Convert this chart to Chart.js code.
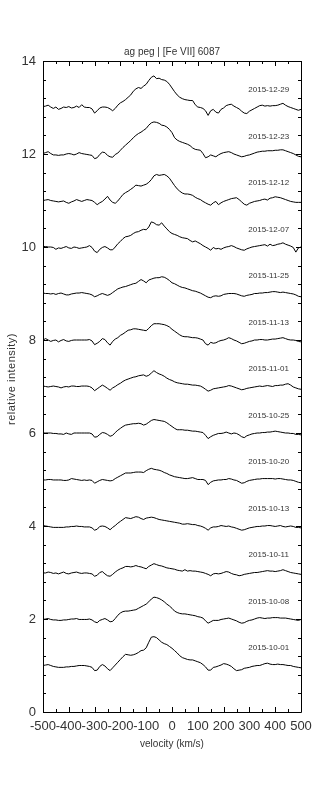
<!DOCTYPE html>
<html><head><meta charset="utf-8">
<script src="https://cdn.jsdelivr.net/npm/chart.js@4.4.0/dist/chart.umd.min.js"></script>
<style>html,body{margin:0;padding:0;background:#fff}canvas{display:block}</style>
</head><body>
<canvas id="c" width="333" height="800"></canvas>
<script>
const velocity = [-500,-490,-480,-470,-460,-450,-440,-430,-420,-410,-400,-390,-380,-370,-360,-350,-340,-330,-320,-310,-300,-290,-280,-270,-260,-250,-240,-230,-220,-210,-200,-190,-180,-170,-160,-150,-140,-130,-120,-110,-100,-90,-80,-70,-60,-50,-40,-30,-20,-10,0,10,20,30,40,50,60,70,80,90,100,110,120,130,140,150,160,170,180,190,200,210,220,230,240,250,260,270,280,290,300,310,320,330,340,350,360,370,380,390,400,410,420,430,440,450,460,470,480,490,500];

const dates = ['2015-10-01','2015-10-08','2015-10-11','2015-10-13','2015-10-20','2015-10-25','2015-11-01','2015-11-13','2015-11-25','2015-12-07','2015-12-12','2015-12-23','2015-12-29'];
const offsets = [0,1,2,3,4,5,6,7,8,9,10,11,12];

const s20151001 = [1.00,1.01,1.02,1.00,0.98,0.97,0.96,0.96,0.96,0.97,0.97,0.98,0.98,0.99,1.00,1.00,1.00,0.99,0.98,0.96,0.89,0.90,0.98,1.02,0.99,0.93,0.89,0.95,1.01,1.07,1.13,1.19,1.24,1.23,1.22,1.23,1.25,1.28,1.32,1.33,1.38,1.50,1.61,1.62,1.60,1.55,1.50,1.47,1.45,1.41,1.37,1.32,1.27,1.21,1.17,1.15,1.13,1.12,1.12,1.10,1.08,1.06,1.02,0.97,0.90,0.90,0.96,0.97,0.99,1.01,1.04,1.03,1.01,0.98,0.93,0.89,0.90,0.91,0.94,0.95,0.96,0.98,0.99,1.00,1.00,1.02,1.04,1.05,1.03,1.02,1.02,1.03,1.02,1.02,1.01,1.00,1.00,0.98,0.97,0.96,0.95];
const s20151008 = [0.99,1.00,1.01,0.99,0.98,0.98,0.97,0.97,0.98,0.98,0.99,1.00,1.00,1.01,0.99,0.99,0.99,0.99,1.00,0.98,0.94,0.92,0.97,0.99,1.01,0.98,0.94,0.95,1.01,1.08,1.13,1.16,1.17,1.17,1.18,1.19,1.20,1.23,1.26,1.29,1.32,1.37,1.43,1.47,1.46,1.44,1.41,1.37,1.32,1.28,1.23,1.17,1.14,1.12,1.11,1.11,1.10,1.09,1.08,1.07,1.05,1.04,1.02,0.96,0.91,0.94,0.97,0.97,0.97,0.99,1.00,1.01,1.02,1.00,0.98,0.96,0.93,0.91,0.92,0.95,0.97,0.98,1.00,1.02,1.03,1.02,1.01,1.02,1.02,1.03,1.03,1.03,1.02,1.02,1.02,1.01,1.00,0.99,0.98,0.97,0.99];
const s20151011 = [0.99,0.99,1.01,1.00,0.98,0.99,0.97,0.99,1.01,0.98,0.97,0.99,1.00,1.01,0.99,0.98,0.99,0.99,0.98,0.97,0.92,0.94,1.00,1.02,0.97,0.93,0.92,0.96,1.01,1.05,1.08,1.10,1.13,1.13,1.12,1.13,1.15,1.13,1.12,1.10,1.08,1.13,1.16,1.19,1.17,1.15,1.14,1.12,1.10,1.09,1.08,1.07,1.05,1.04,1.03,1.06,1.03,1.04,1.03,1.03,1.02,1.01,1.00,0.98,0.96,0.93,0.97,0.98,0.97,0.98,1.00,1.02,1.01,0.98,0.96,0.95,0.93,0.94,0.96,0.97,0.98,0.99,1.00,1.00,1.01,1.02,1.03,1.04,1.03,1.03,1.02,1.03,1.04,1.06,1.04,1.02,1.00,0.99,0.98,0.97,0.96];
const s20151013 = [1.01,1.00,0.99,0.98,0.97,0.97,0.97,0.97,0.97,0.98,0.98,0.99,0.99,1.00,0.99,0.99,0.98,0.98,0.98,0.96,0.91,0.93,0.99,1.00,0.99,0.96,0.92,0.97,1.01,1.06,1.10,1.14,1.18,1.17,1.16,1.18,1.20,1.19,1.16,1.14,1.17,1.18,1.19,1.18,1.16,1.14,1.13,1.12,1.11,1.10,1.09,1.08,1.07,1.06,1.04,1.04,1.05,1.04,1.03,1.03,1.01,1.00,0.98,0.95,0.91,0.96,0.98,0.98,0.99,1.01,1.00,0.99,1.00,0.98,0.97,0.95,0.93,0.91,0.92,0.94,0.96,0.97,0.98,0.99,0.99,1.00,1.00,1.01,1.01,1.00,0.99,1.00,1.01,0.99,0.98,0.99,1.00,0.99,0.97,0.97,0.96];
const s20151020 = [0.99,0.99,1.00,1.00,0.99,0.99,0.99,0.99,0.98,0.98,0.99,1.02,1.01,1.00,0.99,0.98,0.99,0.98,0.99,0.98,0.92,0.95,0.98,1.00,0.99,0.98,0.97,0.98,1.02,1.05,1.08,1.11,1.14,1.14,1.14,1.15,1.16,1.16,1.16,1.15,1.19,1.22,1.24,1.22,1.21,1.20,1.18,1.15,1.13,1.10,1.08,1.06,1.05,1.04,1.03,1.02,1.02,1.03,1.04,1.02,1.00,1.00,1.00,0.98,0.89,0.94,0.97,0.98,0.99,0.99,1.00,1.00,1.02,1.01,0.99,0.98,0.95,0.92,0.93,0.96,0.98,0.99,1.00,1.01,1.01,1.02,1.02,1.02,1.02,1.02,1.01,1.02,1.02,1.01,1.00,0.99,0.99,0.98,0.96,0.94,0.93];
const s20151025 = [1.00,1.00,1.00,1.00,0.99,0.99,0.98,0.98,0.97,1.00,0.98,0.97,1.00,1.00,1.00,1.00,1.00,1.00,1.00,0.98,0.91,0.92,0.97,1.01,1.00,0.97,0.93,0.95,1.01,1.06,1.10,1.14,1.17,1.18,1.19,1.20,1.20,1.21,1.20,1.17,1.19,1.23,1.27,1.29,1.28,1.27,1.26,1.25,1.22,1.18,1.14,1.10,1.07,1.07,1.07,1.06,1.06,1.05,1.04,1.04,1.03,1.02,1.01,0.95,0.88,0.92,0.95,0.97,0.99,0.99,1.00,1.02,1.00,0.98,1.00,0.99,0.96,0.92,0.90,0.94,0.96,0.98,0.99,1.00,1.00,1.01,1.01,1.02,1.02,1.03,1.04,1.03,1.02,1.01,1.00,1.00,0.99,0.99,0.97,0.97,0.96];
const s20151101 = [1.01,1.00,0.99,1.00,1.01,1.00,0.99,0.97,0.99,1.00,0.99,1.01,1.01,1.00,1.00,1.01,1.01,1.01,1.00,0.97,0.91,0.95,0.99,1.03,1.00,0.96,0.92,0.97,1.00,1.04,1.07,1.11,1.14,1.16,1.18,1.20,1.21,1.23,1.24,1.25,1.22,1.24,1.29,1.34,1.30,1.27,1.25,1.22,1.18,1.15,1.13,1.10,1.08,1.07,1.06,1.05,1.05,1.04,1.03,1.03,1.02,1.01,0.98,0.94,0.90,0.92,0.95,0.96,0.97,0.98,0.99,1.00,1.02,1.01,0.99,0.97,0.95,0.93,0.94,0.96,0.97,0.98,0.99,1.00,1.01,1.00,1.01,1.02,1.01,1.00,1.02,1.02,1.03,1.03,1.05,1.06,1.03,0.99,0.97,0.95,0.94];
const s20151113 = [1.00,1.03,1.00,0.97,0.99,1.00,0.96,0.99,1.01,0.98,0.97,0.99,1.00,1.00,1.00,1.00,1.00,1.00,1.01,0.98,0.90,0.93,0.97,1.03,1.01,0.94,0.89,0.97,1.02,1.05,1.10,1.13,1.17,1.21,1.22,1.24,1.24,1.23,1.22,1.21,1.20,1.25,1.31,1.35,1.35,1.35,1.34,1.33,1.31,1.28,1.23,1.19,1.15,1.11,1.08,1.07,1.07,1.06,1.05,1.05,1.04,1.02,1.00,0.92,0.89,0.95,0.93,0.94,0.97,0.99,1.00,1.02,1.05,1.03,1.00,0.98,0.95,0.92,0.93,0.95,0.97,0.98,1.00,1.00,1.01,1.01,1.00,1.00,1.01,1.02,1.02,1.03,1.04,1.05,1.03,1.01,1.00,1.00,0.99,0.97,0.96];
const s20151125 = [1.01,1.00,1.00,0.99,1.00,0.98,1.00,1.01,0.99,0.97,0.97,0.99,1.00,1.01,1.01,1.02,1.01,1.00,0.99,0.97,0.93,0.95,0.98,1.00,0.98,0.96,0.98,1.02,1.06,1.10,1.12,1.14,1.15,1.17,1.19,1.21,1.22,1.26,1.30,1.27,1.23,1.29,1.31,1.33,1.34,1.34,1.36,1.35,1.32,1.28,1.23,1.21,1.18,1.15,1.13,1.12,1.10,1.08,1.06,1.05,1.03,1.01,0.98,0.95,0.92,0.91,0.94,0.95,0.94,0.95,0.98,0.99,1.00,1.00,1.00,0.99,0.97,0.95,0.94,0.96,0.97,0.98,1.00,1.00,1.01,1.01,1.02,1.02,1.03,1.04,1.04,1.03,1.02,1.03,1.02,1.01,1.00,0.99,0.97,0.94,0.93];
const s20151207 = [1.01,1.01,1.00,1.00,0.99,0.95,0.98,0.97,0.99,1.01,0.98,0.97,1.00,0.99,0.97,0.98,0.99,1.00,1.03,0.99,0.91,0.88,0.95,0.99,1.01,0.98,0.94,0.94,1.00,1.07,1.12,1.18,1.22,1.23,1.25,1.29,1.32,1.33,1.36,1.38,1.37,1.43,1.54,1.52,1.48,1.47,1.52,1.45,1.39,1.33,1.29,1.27,1.25,1.22,1.20,1.19,1.18,1.14,1.11,1.13,1.10,1.07,1.03,1.00,0.97,0.93,0.99,0.96,0.97,0.95,0.98,1.00,1.01,1.03,1.01,0.98,0.96,0.94,0.93,0.96,0.98,1.00,1.01,1.02,1.03,1.04,1.05,1.02,1.06,1.03,1.04,1.06,1.07,1.09,1.06,1.04,1.02,0.99,0.89,0.98,1.00];
const s20151212 = [1.00,1.01,1.02,1.00,0.99,0.98,0.97,0.98,0.99,0.96,0.94,0.97,0.99,1.02,1.00,0.98,1.00,1.02,1.01,1.00,0.96,0.91,0.95,0.98,1.03,1.09,1.01,0.96,0.94,0.99,1.06,1.13,1.17,1.20,1.24,1.28,1.33,1.32,1.31,1.33,1.35,1.39,1.45,1.53,1.56,1.54,1.55,1.56,1.53,1.48,1.40,1.32,1.25,1.20,1.16,1.14,1.14,1.13,1.11,1.07,1.04,1.02,0.98,0.95,0.92,0.90,0.95,0.98,0.91,0.95,0.98,1.00,1.02,1.04,1.05,1.06,1.02,0.97,0.92,0.90,0.94,0.96,0.98,0.99,1.00,1.02,1.03,1.01,1.05,1.06,1.08,1.07,1.06,1.04,1.02,1.00,0.98,0.97,0.96,0.96,0.96];
const s20151223 = [1.01,1.03,1.05,1.01,0.98,0.98,0.97,0.98,0.98,1.00,1.01,1.00,0.98,1.00,1.03,1.01,1.00,0.99,0.98,0.97,0.90,0.92,0.99,1.04,1.03,0.97,0.94,0.93,0.99,1.02,1.08,1.14,1.19,1.24,1.29,1.35,1.40,1.44,1.47,1.51,1.55,1.62,1.67,1.69,1.68,1.66,1.62,1.61,1.58,1.53,1.46,1.35,1.30,1.27,1.25,1.23,1.21,1.18,1.13,1.10,1.09,1.08,1.01,0.92,0.94,0.98,0.96,0.94,0.98,1.01,1.03,1.04,1.05,1.03,1.00,0.98,0.96,0.94,0.95,0.97,0.98,1.00,1.02,1.04,1.05,1.06,1.06,1.07,1.07,1.07,1.08,1.08,1.09,1.09,1.07,1.05,1.03,1.01,0.98,0.95,0.94];
const s20151229 = [1.02,1.03,1.05,1.01,0.98,1.01,0.96,0.98,1.01,1.00,1.02,0.99,1.00,1.03,1.00,1.06,1.01,1.00,1.00,0.97,0.88,0.93,0.99,1.01,1.01,1.00,0.97,0.93,0.98,1.05,1.10,1.13,1.17,1.22,1.27,1.35,1.40,1.43,1.41,1.46,1.50,1.58,1.65,1.68,1.62,1.63,1.60,1.59,1.56,1.50,1.42,1.34,1.27,1.22,1.19,1.17,1.16,1.15,1.15,1.06,1.01,1.00,0.98,0.93,0.83,0.93,0.96,0.90,0.88,0.96,0.99,1.04,1.06,1.07,1.03,1.00,0.97,0.92,0.88,0.87,0.92,0.95,0.98,1.01,1.04,1.05,1.03,1.04,1.03,1.04,1.04,1.05,1.07,1.09,1.05,1.02,1.00,0.98,0.96,0.94,0.96];

const spectra = [s20151001,s20151008,s20151011,s20151013,s20151020,s20151025,s20151101,s20151113,s20151125,s20151207,s20151212,s20151223,s20151229];

const titleText = 'ag peg | [Fe VII] 6087';
const xTitle = 'velocity (km/s)';
const yTitle = 'relative intensity)';

const FONT = "'Liberation Sans', Arial, Helvetica, sans-serif";
const TEXT = '#333';

const datasets = spectra.map((s, k) => ({
  label: dates[k],
  data: velocity.map((v, i) => ({x: v, y: s[i] + offsets[k]})),
  borderColor: '#000',
  borderWidth: 1,
  pointRadius: 0,
  tension: 0,
  fill: false
}));

const decor = {
  id: 'decor',
  afterDraw(chart) {
    const ctx = chart.ctx;
    const a = chart.chartArea;
    const xs = chart.scales.x, ys = chart.scales.y;
    ctx.save();
    ctx.strokeStyle = '#000';
    ctx.lineWidth = 1;
    ctx.beginPath();
    ctx.rect(Math.round(a.left) + 0.5, Math.round(a.top) + 0.5, Math.round(a.right - a.left), Math.round(a.bottom - a.top));
    ctx.stroke();
    ctx.beginPath();
    for (let v = -500; v <= 500; v += 50) {
      const px = Math.round(xs.getPixelForValue(v)) + 0.5;
      const len = (v % 100 === 0) ? 5 : 3;
      ctx.moveTo(px, a.bottom); ctx.lineTo(px, a.bottom - len);
      ctx.moveTo(px, a.top); ctx.lineTo(px, a.top + len);
    }
    for (let i = 0; i <= 35; i++) {
      const val = i * 0.4;
      const py = Math.round(ys.getPixelForValue(val)) + 0.5;
      const len = (i % 5 === 0) ? 5 : 3;
      ctx.moveTo(a.left, py); ctx.lineTo(a.left + len, py);
      ctx.moveTo(a.right, py); ctx.lineTo(a.right - len, py);
    }
    ctx.stroke();
    ctx.fillStyle = TEXT;
    ctx.textAlign = 'center';
    ctx.textBaseline = 'middle';
    ctx.font = '10px ' + FONT;
    ctx.fillText(titleText, (a.left + a.right) / 2, 52);
    ctx.fillText(xTitle, (a.left + a.right) / 2, 744);
    ctx.save();
    ctx.translate(12, 379);
    ctx.rotate(-Math.PI / 2);
    ctx.font = '11px ' + FONT;
    ctx.letterSpacing = '0.5px';
    ctx.fillText(yTitle, 0, 0);
    ctx.restore();
    ctx.font = '8px ' + FONT;
    for (let k = 0; k < dates.length; k++) {
      const px = xs.getPixelForValue(375);
      const py = ys.getPixelForValue(offsets[k] + 1.38);
      ctx.fillText(dates[k], px, py);
    }
    ctx.restore();
  }
};

new Chart(document.getElementById('c'), {
  type: 'line',
  data: { datasets },
  options: {
    responsive: false,
    animation: false,
    events: [],
    layout: { padding: { top: 61, right: 32, left: 0, bottom: 0 } },
    plugins: { legend: { display: false }, tooltip: { enabled: false }, title: { display: false } },
    scales: {
      x: {
        type: 'linear', min: -500, max: 500,
        grid: { display: false, drawTicks: false },
        border: { display: false },
        ticks: { stepSize: 100, autoSkip: false, maxRotation: 0, minRotation: 0, padding: 7, color: TEXT, font: { family: FONT, size: 13 } },
        afterFit(scale) { scale.height = 88; }
      },
      y: {
        min: 0, max: 14,
        grid: { display: false, drawTicks: false },
        border: { display: false },
        ticks: { stepSize: 2, padding: 7, color: TEXT, font: { family: FONT, size: 13 } },
        afterFit(scale) { scale.width = 43; }
      }
    }
  },
  plugins: [decor]
});
</script>
</body></html>
